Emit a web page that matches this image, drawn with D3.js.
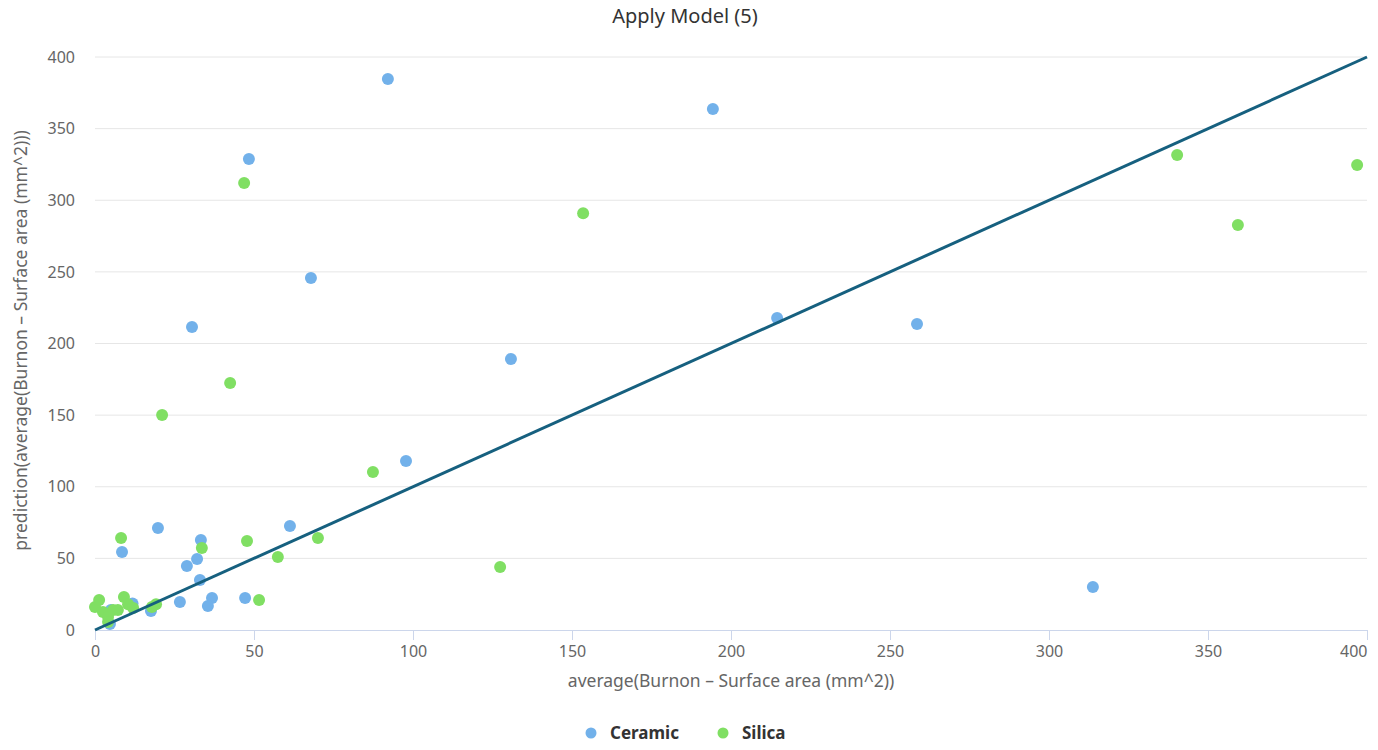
<!DOCTYPE html>
<html>
<head>
<meta charset="utf-8">
<script src="https://cdn.jsdelivr.net/npm/d3@7"></script>
<style>
  html, body { margin: 0; padding: 0; background: #ffffff; }
  svg { display: block; font-family: "Noto Sans", "Open Sans", sans-serif; }
</style>
</head>
<body>
<svg id="chart" width="1378" height="750"></svg>
<script>
// Observed surface area (x) vs model prediction (y), per material
const ceramicX = [92.1, 48.4, 194.3, 67.9, 30.5, 214.5, 258.5, 130.8, 97.8, 19.8, 61.3, 33.3, 8.5, 32.1, 28.9, 33.0, 313.8, 47.2, 36.8, 26.7, 35.5, 17.6, 4.7, 11.8, 5.0];
const ceramicY = [384.6, 328.8, 363.7, 245.7, 211.5, 217.8, 213.6, 189.2, 118.0, 71.2, 72.6, 62.8, 54.5, 49.6, 44.7, 34.9, 30.0, 22.3, 22.3, 19.5, 16.8, 13.3, 4.2, 18.5, 14.0];

const silicaX = [46.9, 153.5, 340.3, 359.4, 396.9, 42.5, 21.1, 87.4, 8.2, 33.6, 47.8, 70.1, 57.5, 127.4, 51.6, 0.0, 1.3, 2.5, 4.1, 5.7, 7.2, 9.1, 10.4, 12.0, 17.9, 19.2, 4.1];
const silicaY = [312.0, 291.0, 331.6, 282.7, 324.6, 172.4, 150.1, 110.3, 64.2, 57.2, 62.1, 64.2, 51.0, 44.0, 20.9, 16.0, 21.0, 12.6, 9.0, 14.0, 14.0, 23.0, 18.0, 15.4, 16.0, 18.0, 5.6];

// Reference line: prediction equals observed value
const refLineX = [0, 400];
const refLineY = [0, 400];

const xTicks = [0, 50, 100, 150, 200, 250, 300, 350, 400];
const yTicks = [0, 50, 100, 150, 200, 250, 300, 350, 400];

const seriesNames = ["Ceramic", "Silica"];
const seriesColors = ["#72b1ea", "#80df63"];

const svg = d3.select("#chart");
const plot = { left: 95, right: 1367, top: 57, bottom: 630 };

const x = d3.scaleLinear().domain([0, 400]).range([plot.left, plot.right]);
const y = d3.scaleLinear().domain([0, 400]).range([plot.bottom, plot.top]);

// Title
svg.append("text")
  .attr("x", 685).attr("y", 23)
  .attr("text-anchor", "middle")
  .attr("font-size", 20).attr("fill", "#333333")
  .text("Apply Model (5)");

// Horizontal grid lines
svg.append("g")
  .selectAll("line")
  .data(yTicks.filter(d => d > 0))
  .join("line")
  .attr("x1", plot.left).attr("x2", plot.right)
  .attr("y1", d => y(d)).attr("y2", d => y(d))
  .attr("stroke", "#e6e6e6").attr("stroke-width", 1);

// Y axis (labels only)
const yAxis = d3.axisLeft(y).tickValues(yTicks).tickSize(0).tickPadding(0);
const yg = svg.append("g").attr("transform", `translate(${plot.left - 20},0)`).call(yAxis);
yg.select(".domain").remove();
yg.selectAll("text").attr("font-size", 16).attr("fill", "#666666")
  .attr("font-family", "Noto Sans, Open Sans, sans-serif");

// X axis
const xAxis = d3.axisBottom(x).tickValues(xTicks).tickSize(10).tickPadding(6);
const xg = svg.append("g").attr("transform", `translate(0,${plot.bottom})`).call(xAxis);
xg.select(".domain").attr("stroke", "#ccd6eb").attr("d", `M${plot.left},0.5H${plot.right}`);
xg.selectAll(".tick line").attr("stroke", "#ccd6eb");
xg.selectAll("text").attr("font-size", 16).attr("fill", "#666666")
  .attr("font-family", "Noto Sans, Open Sans, sans-serif");
xg.selectAll(".tick text").filter(d => d === 400).attr("text-anchor", "end");

// Axis titles
svg.append("text")
  .attr("x", (plot.left + plot.right) / 2).attr("y", 687)
  .attr("text-anchor", "middle")
  .attr("font-size", 17.5).attr("fill", "#666666")
  .text("average(Burnon \u2013 Surface area (mm^2))");

svg.append("text")
  .attr("transform", `translate(27,${(plot.top + plot.bottom) / 2 - 3}) rotate(-90)`)
  .attr("text-anchor", "middle")
  .attr("font-size", 17.5).attr("fill", "#666666")
  .text("prediction(average(Burnon \u2013 Surface area (mm^2)))");

// Scatter points
const series = [
  { xs: ceramicX, ys: ceramicY, color: seriesColors[0] },
  { xs: silicaX, ys: silicaY, color: seriesColors[1] }
];
series.forEach(s => {
  svg.append("g")
    .selectAll("circle")
    .data(s.xs.map((v, i) => [v, s.ys[i]]))
    .join("circle")
    .attr("cx", d => x(d[0]))
    .attr("cy", d => y(d[1]))
    .attr("r", 6)
    .attr("fill", s.color);
});

// Diagonal reference line
const line = d3.line().x(d => x(d[0])).y(d => y(d[1]));
svg.append("path")
  .datum(refLineX.map((v, i) => [v, refLineY[i]]))
  .attr("d", line)
  .attr("fill", "none")
  .attr("stroke", "#16607f")
  .attr("stroke-width", 3);

// Legend
const legendX = [591, 723];
const legend = svg.append("g");
seriesNames.forEach((name, i) => {
  legend.append("circle")
    .attr("cx", legendX[i]).attr("cy", 733).attr("r", 5.5)
    .attr("fill", seriesColors[i]);
  legend.append("text")
    .attr("x", legendX[i] + 19).attr("y", 739)
    .attr("font-size", 17).attr("font-weight", "bold").attr("fill", "#333333")
    .text(name);
});
</script>
</body>
</html>
